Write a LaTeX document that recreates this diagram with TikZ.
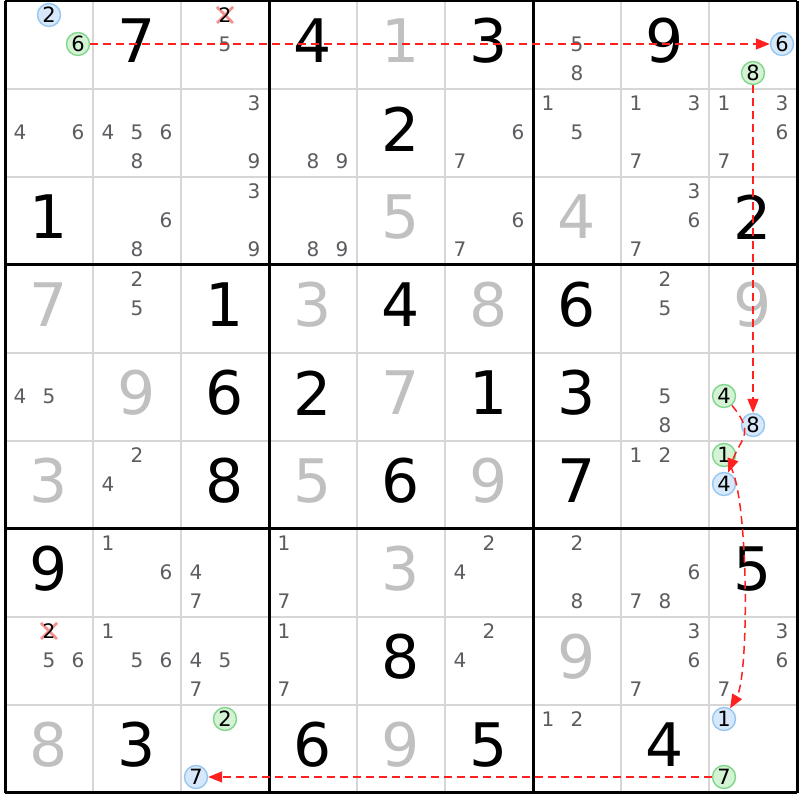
\documentclass[tikz,border=0pt]{standalone}
\usepackage{fontspec}
\setmainfont{DejaVu Sans}
\usetikzlibrary{arrows.meta}

\definecolor{candgray}{RGB}{90,92,96}
\definecolor{solvedgray}{RGB}{192,192,192}
\definecolor{gridgray}{RGB}{214,214,214}
\definecolor{ongreen}{RGB}{212,242,212}
\definecolor{ongreenline}{RGB}{128,214,140}
\definecolor{offblue}{RGB}{214,232,250}
\definecolor{offblueline}{RGB}{150,198,242}
\definecolor{linkred}{RGB}{255,32,32}
\definecolor{crosspink}{RGB}{245,140,140}

\tikzset{
  given/.style={inner sep=0pt, font=\fontsize{60}{60}\selectfont},
  solved/.style={given, text=solvedgray},
  cand/.style={inner sep=0pt, font=\fontsize{20}{20}\selectfont, text=candgray},
  oncand/.style={circle, draw=ongreenline, fill=ongreen, line width=1.4pt,
    minimum size=23pt, inner sep=0pt, font=\fontsize{21}{21}\selectfont},
  offcand/.style={oncand, draw=offblueline, fill=offblue},
  crossmark/.style={crosspink, line width=2.8pt},
  thinline/.style={gridgray, line width=1.6pt},
  thickline/.style={black, line width=3pt},
  link/.style={draw=linkred, line width=1.5pt, dash pattern=on 8pt off 5pt,
    -{Triangle[length=14pt,width=11pt,fill=linkred]}}
}

% cells: row #1, column #2
\newcommand{\given}[3]{\node[given] (n#1#2) at ({88*#2-39},{847-88*#1}) {#3};}
\newcommand{\solved}[3]{\node[solved] (n#1#2) at ({88*#2-39},{847-88*#1}) {#3};}
\newcommand{\cands}[3]{%
  \foreach \d in {#3}{%
    \node[cand] (c#1#2-\d) at ({88*#2-39+(mod(\d-1,3)-1)*29},{844-88*#1-(floor((\d-1)/3)-1)*29}) {\d};}}
\newcommand{\ring}[5]{%
  \node[#4] (#5) at ({88*#2-39+(mod(#3-1,3)-1)*29},{844-88*#1-(floor((#3-1)/3)-1)*29}) {#3};}
\newcommand{\struck}[3]{%
  \coordinate (x#1#2) at ({88*#2-39+(mod(#3-1,3)-1)*29},{844-88*#1-(floor((#3-1)/3)-1)*29});
  \draw[crossmark] (x#1#2) +(-8,-8) -- +(8,8) (x#1#2) +(-8,8) -- +(8,-8);
  \node[cand, text=black] (c#1#2-#3) at (x#1#2) {#3};}

\begin{document}
\begin{tikzpicture}[x=1pt,y=1pt]
\useasboundingbox (0,0) rectangle (800,800);
\fill[white] (0,0) rectangle (800,800);
% grid
\foreach \i in {1,2,4,5,7,8} {
  \draw[thinline] ({5+88*\i},7) -- ({5+88*\i},799);
  \draw[thinline] (5,{799-88*\i}) -- (797,{799-88*\i});
}
\foreach \i in {0,3,6,9} {
  \draw[thickline] ({5+88*\i},7) -- ({5+88*\i},799);
  \draw[thickline] (5,{799-88*\i}) -- (797,{799-88*\i});
}
% row 1
\ring{1}{1}{2}{offcand}{b112}
\ring{1}{1}{6}{oncand}{g116}
\given{1}{2}{7}
\struck{1}{3}{2}
\cands{1}{3}{5}
\given{1}{4}{4}
\solved{1}{5}{1}
\given{1}{6}{3}
\cands{1}{7}{5,8}
\given{1}{8}{9}
\ring{1}{9}{6}{offcand}{b196}
\ring{1}{9}{8}{oncand}{g198}
% row 2
\cands{2}{1}{4,6}
\cands{2}{2}{4,5,6,8}
\cands{2}{3}{3,9}
\cands{2}{4}{8,9}
\given{2}{5}{2}
\cands{2}{6}{6,7}
\cands{2}{7}{1,5}
\cands{2}{8}{1,3,7}
\cands{2}{9}{1,3,6,7}
% row 3
\given{3}{1}{1}
\cands{3}{2}{6,8}
\cands{3}{3}{3,9}
\cands{3}{4}{8,9}
\solved{3}{5}{5}
\cands{3}{6}{6,7}
\solved{3}{7}{4}
\cands{3}{8}{3,6,7}
\given{3}{9}{2}
% row 4
\solved{4}{1}{7}
\cands{4}{2}{2,5}
\given{4}{3}{1}
\solved{4}{4}{3}
\given{4}{5}{4}
\solved{4}{6}{8}
\given{4}{7}{6}
\cands{4}{8}{2,5}
\solved{4}{9}{9}
% row 5
\cands{5}{1}{4,5}
\solved{5}{2}{9}
\given{5}{3}{6}
\given{5}{4}{2}
\solved{5}{5}{7}
\given{5}{6}{1}
\given{5}{7}{3}
\cands{5}{8}{5,8}
\ring{5}{9}{4}{oncand}{g594}
\ring{5}{9}{8}{offcand}{b598}
% row 6
\solved{6}{1}{3}
\cands{6}{2}{2,4}
\given{6}{3}{8}
\solved{6}{4}{5}
\given{6}{5}{6}
\solved{6}{6}{9}
\given{6}{7}{7}
\cands{6}{8}{1,2}
\ring{6}{9}{1}{oncand}{g691}
\ring{6}{9}{4}{offcand}{b694}
% row 7
\given{7}{1}{9}
\cands{7}{2}{1,6}
\cands{7}{3}{4,7}
\cands{7}{4}{1,7}
\solved{7}{5}{3}
\cands{7}{6}{2,4}
\cands{7}{7}{2,8}
\cands{7}{8}{6,7,8}
\given{7}{9}{5}
% row 8
\struck{8}{1}{2}
\cands{8}{1}{5,6}
\cands{8}{2}{1,5,6}
\cands{8}{3}{4,5,7}
\cands{8}{4}{1,7}
\given{8}{5}{8}
\cands{8}{6}{2,4}
\solved{8}{7}{9}
\cands{8}{8}{3,6,7}
\cands{8}{9}{3,6,7}
% row 9
\solved{9}{1}{8}
\given{9}{2}{3}
\ring{9}{3}{2}{oncand}{g932}
\ring{9}{3}{7}{offcand}{b937}
\given{9}{4}{6}
\solved{9}{5}{9}
\given{9}{6}{5}
\cands{9}{7}{1,2}
\given{9}{8}{4}
\ring{9}{9}{1}{offcand}{b991}
\ring{9}{9}{7}{oncand}{g997}
% chain
\draw[link] (g116) -- (b196);
\draw[link] (g198) -- (b598);
\draw[link] (g594) to[out=-50,in=70,looseness=1.4] (b694);
\draw[link] (g691) to[out=-60,in=60,looseness=0.4] (b991);
\draw[link] (g997) -- (b937);
\end{tikzpicture}
\end{document}
